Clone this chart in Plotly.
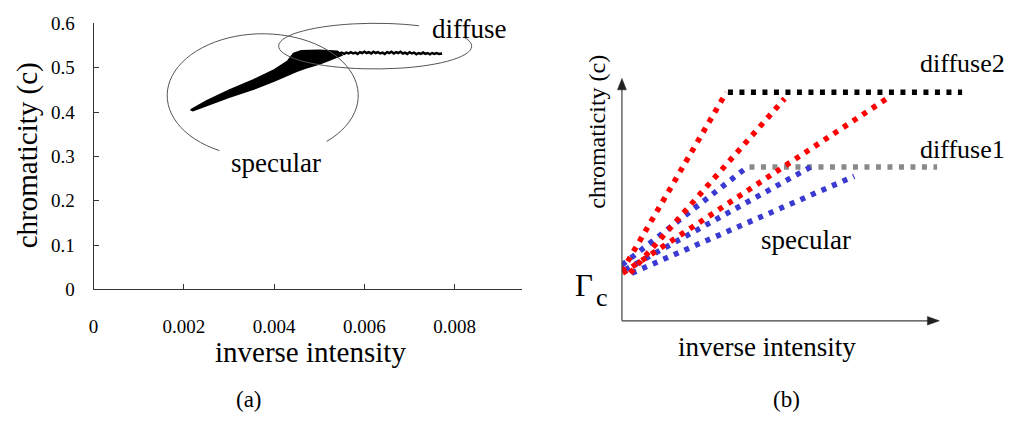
import math
import plotly.graph_objects as go

W, H = 1012, 424
FONT = "Liberation Serif"

# ---------------- (a) measured data ----------------
x_ticks_a = [0, 0.002, 0.004, 0.006, 0.008]
x_ticktext_a = ["0", "0.002", "0.004", "0.006", "0.008"]
y_ticks_a = [0, 0.1, 0.2, 0.3, 0.4, 0.5, 0.6]
y_ticktext_a = ["0", "0.1", "0.2", "0.3", "0.4", "0.5", "0.6"]

# dense specular band: upper edge then lower edge
band_upper_x = [0.00215, 0.0025, 0.0030, 0.00355, 0.0040, 0.0043, 0.00443, 0.0046, 0.0050, 0.0054]
band_upper_y = [0.405, 0.425, 0.449, 0.473, 0.495, 0.515, 0.532, 0.538, 0.539, 0.537]
band_lower_x = [0.0055, 0.0052, 0.0050, 0.0047, 0.0045, 0.0040, 0.00355, 0.0030, 0.0025, 0.0022]
band_lower_y = [0.528, 0.517, 0.508, 0.499, 0.492, 0.470, 0.452, 0.433, 0.414, 0.403]

# diffuse part: noisy flat line
diffuse_x = [0.00530, 0.00535, 0.00540, 0.00545, 0.00550, 0.00555, 0.00560, 0.00565,
             0.00570, 0.00575, 0.00580, 0.00585, 0.00590, 0.00595, 0.00600, 0.00605,
             0.00610, 0.00615, 0.00620, 0.00625, 0.00630, 0.00635, 0.00640, 0.00645,
             0.00650, 0.00655, 0.00660, 0.00665, 0.00670, 0.00675, 0.00680, 0.00685,
             0.00690, 0.00695, 0.00700, 0.00705, 0.00710, 0.00715, 0.00720, 0.00725,
             0.00730, 0.00735, 0.00740, 0.00745, 0.00750, 0.00755, 0.00760, 0.00765,
             0.00772]
diffuse_y = [0.534, 0.531, 0.535, 0.532, 0.534, 0.531, 0.534, 0.532, 0.535, 0.532,
             0.534, 0.531, 0.535, 0.533, 0.536, 0.533, 0.535, 0.532, 0.536, 0.533,
             0.535, 0.532, 0.534, 0.531, 0.535, 0.533, 0.536, 0.532, 0.535, 0.533,
             0.536, 0.532, 0.534, 0.531, 0.535, 0.532, 0.534, 0.530, 0.533, 0.531,
             0.534, 0.531, 0.533, 0.530, 0.533, 0.531, 0.533, 0.531, 0.532]

# ---------------- (b) schematic values ----------------
red_lines = [  # (x0, y0, x1, y1)
    (0.0, 16.4, 33.0, 75.7),
    (2.6, 15.8, 51.4, 73.6),
    (0.2, 15.8, 84.4, 74.1),
]
blue_lines = [
    (0.0, 18.5, 39.3, 50.7),
    (1.0, 16.9, 59.7, 51.0),
    (3.1, 15.8, 73.4, 47.9),
]
diffuse2_line = (33.5, 75.7, 107.5, 75.7)
diffuse1_line = (40.3, 51.0, 99.6, 51.0)

fig = go.Figure()

# band (filled polygon)
fig.add_trace(go.Scatter(
    x=band_upper_x + band_lower_x + band_upper_x[:1],
    y=band_upper_y + band_lower_y + band_upper_y[:1],
    mode="lines", fill="toself", fillcolor="black",
    line=dict(color="black", width=1.5), xaxis="x", yaxis="y", hoverinfo="skip"))
fig.add_trace(go.Scatter(
    x=diffuse_x, y=diffuse_y, mode="lines",
    line=dict(color="black", width=2.5), xaxis="x", yaxis="y", hoverinfo="skip"))

# (b) lines
dots = "5px,6.5px"
for (x0, y0, x1, y1), col in [(diffuse2_line, "black"), (diffuse1_line, "#8a8a8a")]:
    fig.add_trace(go.Scatter(x=[x0, x1], y=[y0, y1], mode="lines",
                             line=dict(color=col, width=5.5, dash=dots),
                             xaxis="x2", yaxis="y2", hoverinfo="skip"))
for x0, y0, x1, y1 in blue_lines:
    fig.add_trace(go.Scatter(x=[x0, x1], y=[y0, y1], mode="lines",
                             line=dict(color="#3a3ad2", width=5.5, dash=dots),
                             xaxis="x2", yaxis="y2", hoverinfo="skip"))
for x0, y0, x1, y1 in red_lines:
    fig.add_trace(go.Scatter(x=[x0, x1], y=[y0, y1], mode="lines",
                             line=dict(color="#ff0000", width=5.5, dash=dots),
                             xaxis="x2", yaxis="y2", hoverinfo="skip"))


def px(x):
    return x / W


def py(y):
    return 1 - y / H


def arc_path(cx, cy, rx, ry, a0, a1, nseg=12):
    d = math.radians(a1 - a0) / nseg
    k = 4.0 / 3.0 * math.tan(d / 4)
    def p(t):
        return cx + rx * math.cos(t), cy - ry * math.sin(t)
    def dp(t):
        return -rx * math.sin(t), -ry * math.cos(t)
    t = math.radians(a0)
    x, y = p(t)
    s = f"M {px(x):.5f},{py(y):.5f}"
    for _ in range(nseg):
        t2 = t + d
        x0, y0 = p(t)
        x3, y3 = p(t2)
        d0 = dp(t)
        d3 = dp(t2)
        x1, y1 = x0 + k * d0[0], y0 + k * d0[1]
        x2, y2 = x3 - k * d3[0], y3 - k * d3[1]
        s += (f" C {px(x1):.5f},{py(y1):.5f} {px(x2):.5f},{py(y2):.5f} "
              f"{px(x3):.5f},{py(y3):.5f}")
        t = t2
    return s


shapes = [
    dict(type="path", xref="paper", yref="paper",
         path=arc_path(259, 90, 96, 65, -48, 243, 16),
         line=dict(color="#555555", width=1)),
    dict(type="path", xref="paper", yref="paper",
         path=arc_path(372, 38, 97, 24, 63, 383.5, 16),
         line=dict(color="#555555", width=1)),
    # axis lines of (b)
    dict(type="line", xref="paper", yref="paper",
         x0=px(620), y0=py(327), x1=px(932), y1=py(327),
         line=dict(color="#404040", width=1.2)),
    dict(type="line", xref="paper", yref="paper",
         x0=px(620), y0=py(327), x1=px(620), y1=py(80),
         line=dict(color="#404040", width=1.2)),
    # arrow heads of (b)
    dict(type="path", xref="paper", yref="paper",
         path=f"M {px(939)},{py(327)} L {px(927)},{py(322.5)} L {px(927)},{py(331.5)} Z",
         fillcolor="#202020", line=dict(color="#202020", width=0.5)),
    dict(type="path", xref="paper", yref="paper",
         path=f"M {px(620)},{py(72)} L {px(615.5)},{py(84)} L {px(624.5)},{py(84)} Z",
         fillcolor="#202020", line=dict(color="#202020", width=0.5)),
]


def txt(s, x, y, size, angle=0, color="black"):
    return dict(text=s, x=px(x), y=py(y), xref="paper", yref="paper",
                xanchor="center", yanchor="middle", showarrow=False, borderpad=0,
                textangle=angle, font=dict(family=FONT, size=size, color=color))


annotations = [
    txt("diffuse", 467, 20, 27),
    txt("specular", 272, 161, 27),
    txt("inverse intensity", 307, 360, 29),
    txt("chromaticity (c)", 23, 153, 29, angle=-90),
    txt("(a)", 245, 410, 23),
    txt("(b)", 785, 410, 23),
    txt("diffuse2", 962, 56, 26),
    txt("diffuse1", 962, 147, 26),
    txt("specular", 805, 242, 27),
    txt("Γ", 582, 290, 31),
    txt("c", 600, 303, 26),
    txt("chromaticity (c)", 595, 128, 24, angle=-90),
    txt("inverse intensity", 766, 355, 27),
]

axis_font = dict(family=FONT, size=19, color="black")
fig.update_layout(
    width=W, height=H, margin=dict(l=0, r=0, t=0, b=0),
    paper_bgcolor="white", plot_bgcolor="white", showlegend=False,
    xaxis=dict(domain=[89 / W, 520 / W], range=[0, 0.0095],
               tickvals=x_ticks_a, ticktext=x_ticktext_a,
               ticks="inside", ticklen=5, tickcolor="#333", tickwidth=1,
               showline=True, linecolor="#333", linewidth=1,
               showgrid=False, zeroline=False, tickfont=axis_font,
               ticklabelstandoff=20, anchor="y"),
    yaxis=dict(domain=[1 - 294 / H, 1 - 14 / H], range=[0, 0.6],
               tickvals=y_ticks_a, ticktext=y_ticktext_a,
               ticks="inside", ticklen=5, tickcolor="#333", tickwidth=1,
               showline=True, linecolor="#333", linewidth=1,
               showgrid=False, zeroline=False, tickfont=axis_font,
               ticklabelstandoff=14, anchor="x"),
    xaxis2=dict(domain=[620 / W, 1.0], range=[0, (W - 620) / 3.18],
                visible=False, anchor="y2"),
    yaxis2=dict(domain=[1 - 327 / H, 1 - 30 / H], range=[0, (327 - 30) / 3.175],
                visible=False, anchor="x2"),
    shapes=shapes,
    annotations=annotations,
)

fig.write_html(
    "out.html",
    config={"responsive": False, "displayModeBar": False},
    post_script="document.body.style.margin='0';document.body.style.overflow='hidden';",
)
